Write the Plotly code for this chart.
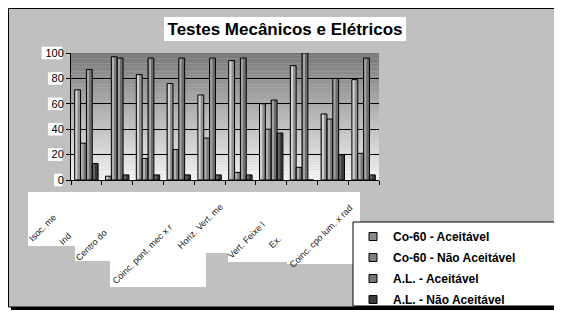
import plotly.graph_objects as go

# ---------------- data ----------------
category_labels = ["Isoc. me", "Ind", "Centro do", "Coinc. pont. mec x r", "Horiz. Vert. me",
                   "Vert. Feixe l", "Ex. ", "Coinc. cpo lum. x rad"]
n_categories = 10
series_names = ["Co-60 - Aceitável", "Co-60 - Não Aceitável", "A.L. - Aceitável", "A.L. - Não Aceitável"]
co60_aceitavel = [71, 3, 83, 76, 67, 94, 60, 90, 52, 79]
co60_nao_aceitavel = [29, 97, 17, 24, 33, 6, 40, 10, 48, 21]
al_aceitavel = [87, 96, 96, 96, 96, 96, 63, 100, 80, 96]
al_nao_aceitavel = [13, 4, 4, 4, 4, 4, 37, 0, 20, 4]
y_ticks = [0, 20, 40, 60, 80, 100]
title_text = "Testes Mecânicos e Elétricos"

series_values = [co60_aceitavel, co60_nao_aceitavel, al_aceitavel, al_nao_aceitavel]

# ---------------- styling ----------------
FONT = "Arial, Liberation Sans, sans-serif"
OFF = 8                       # page offset of the figure (body margin)
W, H = 554, 304
# plot area in page pixels: x 71..379, y 53..180
ML, MT = 71 - OFF, 53 - OFF
MR = W - (379 - OFF)
MB = H - (180 - OFF)
PW, PH = W - ML - MR, H - MT - MB


def px(x):
    """page x pixel -> paper fraction"""
    return (x - OFF - ML) / PW


def py(y):
    """page y pixel -> paper fraction"""
    return (H - MB - (y - OFF)) / PH


base_colors = ["#8e8e8e", "#7a7a7a", "#6c6c6c", "#383838"]
high_colors = ["#d0d0d0", "#b0b0b0", "#a2a2a2", "#626262"]
legend_colors = ["#8a8a8a", "#7e7e7e", "#767676", "#3c3c3c"]
bar_w = 0.19
bar_start = -0.38

xs = list(range(n_categories))
fig = go.Figure()

for k, vals in enumerate(series_values):
    off = bar_start + bar_w * k
    fig.add_trace(go.Bar(x=xs, y=vals, offset=off, width=bar_w,
                         marker=dict(color=base_colors[k], line=dict(width=0)),
                         showlegend=False, hoverinfo="skip"))
    fig.add_trace(go.Bar(x=xs, y=vals, offset=off + 0.035, width=0.055,
                         marker=dict(color=high_colors[k], line=dict(width=0)),
                         showlegend=False, hoverinfo="skip"))
    fig.add_trace(go.Bar(x=xs, y=vals, offset=off, width=bar_w,
                         marker=dict(color="rgba(0,0,0,0)", line=dict(color="black", width=1)),
                         showlegend=False, name=series_names[k]))

for k, name in enumerate(series_names):
    fig.add_trace(go.Scatter(x=[None], y=[None], mode="markers", name=name,
                             legendgroup=name,
                             marker=dict(symbol="square", size=8, color=legend_colors[k],
                                         line=dict(color="black", width=1))))

shapes = []
# outer frame with shadow
shapes.append(dict(type="rect", xref="paper", yref="paper", x0=px(11), x1=px(562), y0=py(9), y1=py(310),
                   fillcolor="black", line=dict(width=0), layer="below"))
shapes.append(dict(type="rect", xref="paper", yref="paper", x0=px(8.5), x1=px(559), y0=py(8.5), y1=py(307),
                   fillcolor="#c0c0c0", line=dict(color="black", width=1), layer="below"))
# plot-area gradient
n_strips = 48
for i in range(n_strips):
    t = (i + 0.5) / n_strips
    g = int(round(246 - (246 - 120) * t))
    shapes.append(dict(type="rect", xref="x domain", yref="y domain", x0=0, x1=1,
                       y0=i / n_strips, y1=(i + 1) / n_strips,
                       fillcolor=f"rgb({g},{g},{g})", line=dict(width=0), layer="below"))
# white label backgrounds
label_boxes = [(28, 75, 192, 246), (75, 110, 192, 261), (110, 206, 192, 287),
               (206, 228, 192, 253), (228, 287, 192, 262), (287, 360, 192, 264)]
for x0, x1, y0, y1 in label_boxes:
    shapes.append(dict(type="rect", xref="paper", yref="paper", x0=px(x0), x1=px(x1), y0=py(y0), y1=py(y1),
                       fillcolor="white", line=dict(width=0), layer="below"))
# white boxes behind y tick labels
for v in y_ticks:
    ycen = 180 - v * PH / 100.0
    wbox = 6.2 * len(str(v)) + 2
    shapes.append(dict(type="rect", xref="paper", yref="paper", x0=px(62.3 - wbox), x1=px(62.3),
                       y0=py(ycen - 6.3), y1=py(ycen + 6.3),
                       fillcolor="white", line=dict(width=0), layer="below"))
# title box
shapes.append(dict(type="rect", xref="paper", yref="paper", x0=px(164), x1=px(406), y0=py(17), y1=py(41),
                   fillcolor="white", line=dict(width=0), layer="below"))
# legend box with shadow
shapes.append(dict(type="rect", xref="paper", yref="paper", x0=px(356), x1=px(559), y0=py(225), y1=py(309),
                   fillcolor="black", line=dict(width=0), layer="below"))
shapes.append(dict(type="rect", xref="paper", yref="paper", x0=px(353), x1=px(555), y0=py(222), y1=py(306),
                   fillcolor="white", line=dict(color="black", width=1), layer="below"))

# category labels (top-right end points, page px)
label_ends = [(61, 210), (76, 228), (112, 224), (177, 219), (228, 198), (270, 217), (288, 229), (358, 200)]
annotations = []
for lab, (ex, ey) in zip(category_labels, label_ends):
    annotations.append(dict(text=lab, xref="paper", yref="paper", x=px(ex), y=py(ey),
                            xanchor="right", yanchor="top", textangle=-45, showarrow=False,
                            font=dict(family=FONT, size=9, color="#222222")))

fig.update_layout(
    width=W, height=H,
    margin=dict(l=ML, r=MR, t=MT, b=MB, pad=0, autoexpand=False),
    paper_bgcolor="white", plot_bgcolor="#c0c0c0",
    barmode="overlay",
    showlegend=True,
    title=dict(text="<b>" + title_text + "</b>", x=px(285), xref="paper", xanchor="center",
               y=1 - (29 - OFF) / H, yref="container", yanchor="middle",
               font=dict(family=FONT, size=17, color="black")),
    legend=dict(x=px(353), y=py(222), xanchor="left", yanchor="top",
                bgcolor="rgba(0,0,0,0)", borderwidth=0, tracegroupgap=2,
                font=dict(family=FONT, size=12, color="black", weight="bold")),
    xaxis=dict(range=[-0.5, n_categories - 0.5], tickmode="array",
               tickvals=[i - 0.5 for i in range(n_categories + 1)],
               showticklabels=False, ticks="outside", ticklen=4, tickcolor="black", tickwidth=1,
               showline=True, linecolor="black", linewidth=1, showgrid=False, zeroline=False,
               fixedrange=True),
    yaxis=dict(range=[0, 100], tickmode="array", tickvals=y_ticks,
               ticks="outside", ticklen=4, tickcolor="black", tickwidth=1,
               showline=True, linecolor="black", linewidth=1,
               showgrid=True, gridcolor="black", gridwidth=1, zeroline=False,
               tickfont=dict(family=FONT, size=11, color="black"), fixedrange=True),
    shapes=shapes,
    annotations=annotations,
)

fig.write_html("out.html")
